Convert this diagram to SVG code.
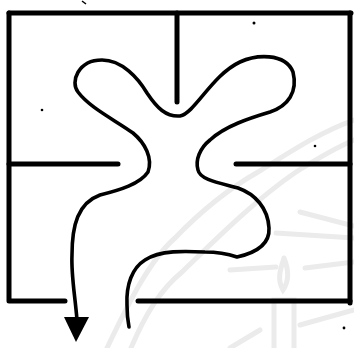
<svg xmlns="http://www.w3.org/2000/svg" width="354" height="348" viewBox="0 0 354 348">
<style>
.wm{fill:none;stroke:#ebebeb;stroke-width:5;stroke-linecap:round}
.wall{fill:none;stroke:#000;stroke-width:5;stroke-linecap:round;stroke-linejoin:round}
.route{fill:none;stroke:#000;stroke-width:3.6;stroke-linecap:round;stroke-linejoin:round}
.dot{fill:#000}
</style>
<rect x="0" y="0" width="354" height="348" fill="#fff"/>
<g id="watermark">
<path class="wm" d="M107,348 C130,300 150,260 175,238 C200,212 230,188 258,172 C290,152 320,132 354,120"/>
<path class="wm" d="M131,348 C145,315 160,290 182,272 C215,240 255,200 296,172 C315,160 335,148 354,140"/>
<path class="wm" d="M300,212 L354,226"/>
<path class="wm" d="M276,233 L354,238"/>
<path class="wm" d="M230,270 L276,267"/>
<path class="wm" d="M305,268 L354,262"/>
<path class="wm" d="M284,258 C280,270 277,280 283,290 C290,280 288,268 284,258"/>
<path class="wm" d="M274,348 L274,300 L294,300 L294,348"/>
<path class="wm" d="M300,325 L354,310"/>
<path class="wm" d="M230,348 L260,330"/>
</g>
<g id="frame">
<path class="wall" d="M9,13 L351,13"/>
<path class="wall" d="M9,13 L9,301 L65,301"/>
<path class="wall" d="M350,13 L350,303"/>
<path class="wall" d="M138,301 L350,301"/>
</g>
<g id="walls">
<path class="wall" d="M177,13 L177,102"/>
<path class="wall" d="M9,164 L118,164"/>
<path class="wall" d="M236,164 L350,164"/>
</g>
<g id="route">
<path class="route" d="M77,320 C75,295 71,275 72,255 C72,225 78,203 100,195 C120,190 140,184 148,172 C153,158 145,143 133,133 C115,120 90,108 78,92 C70,82 78,60 102,60 C122,60 138,78 147,93 C157,108 166,117 180,116 C195,113 212,75 240,62 C255,55 285,52 293,72 C298,92 288,106 270,112 C250,118 225,126 210,140 C200,148 195,160 198,170 C200,180 220,183 238,188 C255,194 268,208 269,228 C270,245 255,253 237,257 C228,254 220,252 205,252 C185,251 160,250 145,260 C132,268 126,285 127,305 C127,315 128,322 129,327"/>
<polygon id="arrowhead" points="64,317 89,317 76,342" fill="#000"/>
</g>
<g id="specks">
<circle class="dot" cx="42" cy="110" r="1.3"/>
<circle class="dot" cx="315" cy="146" r="1.3"/>
<circle class="dot" cx="344" cy="328" r="1.4"/>
<circle class="dot" cx="254" cy="23" r="1.5"/>
<path d="M82,1 L86,4" stroke="#000" stroke-width="1.5"/>
</g>
</svg>
